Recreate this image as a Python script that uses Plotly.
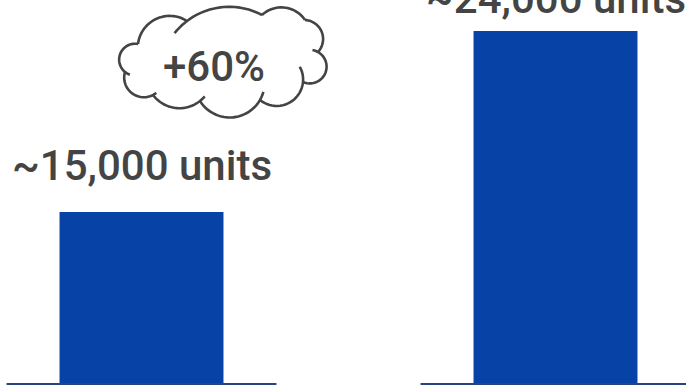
import numpy as np
import plotly.graph_objects as go

categories = ["Before", "After"]
values = [15000, 24000]
value_labels = ["~15,000 units", "~24,000 units"]
change_label = "+60%"

W, H = 686, 386
MB = 2
PH = H - MB  # plot height in px

# truncated y-axis (as in the reference)
y0 = 6447.5
y1 = 25541.4

BAR = "#0743a7"
TXT = "#444444"
FONT = "Roboto"

fig = go.Figure()
fig.add_trace(go.Bar(x=categories, y=values, marker=dict(color=BAR, line=dict(width=0)),
                     width=0.396, hoverinfo="skip"))

# baselines under each bar
shapes = []
for i in range(len(categories)):
    shapes.append(dict(type="line", xref="x", yref="paper", x0=i - 0.326, x1=i + 0.326,
                       y0=0, y1=0, line=dict(color="#27467f", width=2)))


def P(px, py):
    return px / W, (PH - py) / PH


def arc(p0, p1, h, ext0=0.0, n=28):
    """circular bump from p0 to p1 (screen coords, clockwise), bulging outward by h;
    ext0 extends the arc backwards beyond p0 (radians) to form an inner hook."""
    p0 = np.array(p0, float); p1 = np.array(p1, float)
    d = p1 - p0
    c = np.hypot(*d)
    nrm = np.array([d[1], -d[0]]) / c
    R = (c * c / 4 + h * h) / (2 * h)
    mid = (p0 + p1) / 2
    ctr = mid - nrm * (R - h)
    a0 = np.arctan2(p0[1] - ctr[1], p0[0] - ctr[0])
    a1 = np.arctan2(p1[1] - ctr[1], p1[0] - ctr[0])
    apk = np.arctan2(nrm[1], nrm[0])
    da = (a1 - a0) % (2 * np.pi)
    dp = (apk - a0) % (2 * np.pi)
    sweep = da if dp <= da else da - 2 * np.pi
    sgn = np.sign(sweep)
    ts = np.linspace(a0 - sgn * ext0, a0 + sweep, n)
    return [(ctr[0] + R * np.cos(t), ctr[1] + R * np.sin(t)) for t in ts]


anchors = [(125, 72), (138, 44), (187, 21), (262, 15), (305, 20), (318, 52),
           (303, 82), (260, 100), (200, 101), (153, 95)]
sag = [12, 15, 11, 10, 11, 16, 14, 17, 10, 12]
hooks = [0.35, 0.0, 0.25, 0.0, 0.0, 0.35, 0.6, 0.25, 0.2, 0.2]

for i in range(len(anchors)):
    a = anchors[i]; b = anchors[(i + 1) % len(anchors)]
    seg = arc(a, b, sag[i], hooks[i])
    path = "M " + " L ".join("%.5f,%.5f" % P(*p) for p in seg)
    shapes.append(dict(type="path", xref="paper", yref="paper", path=path,
                       line=dict(color="#444444", width=2.6)))

annotations = []
for i, (cat, v, lab) in enumerate(zip(categories, values, value_labels)):
    annotations.append(dict(x=cat, y=v, xref="x", yref="y", text=lab, showarrow=False,
                            yanchor="bottom", yshift=[20, 6][i],
                            font=dict(family=FONT, size=42, color=TXT, weight=500)))
cx, cy = P(213.5, 66)
annotations.append(dict(x=cx, y=cy, xref="paper", yref="paper", text=change_label,
                        showarrow=False, xanchor="center", yanchor="middle",
                        font=dict(family=FONT, size=42, color=TXT, weight=500)))

fig.update_layout(
    width=W, height=H, margin=dict(l=0, r=0, t=0, b=MB),
    paper_bgcolor="white", plot_bgcolor="white", showlegend=False,
    xaxis=dict(range=[-0.3418, 1.3152], visible=False),
    yaxis=dict(range=[y0, y1], visible=False),
    shapes=shapes, annotations=annotations,
)
fig.write_html("out.html")
